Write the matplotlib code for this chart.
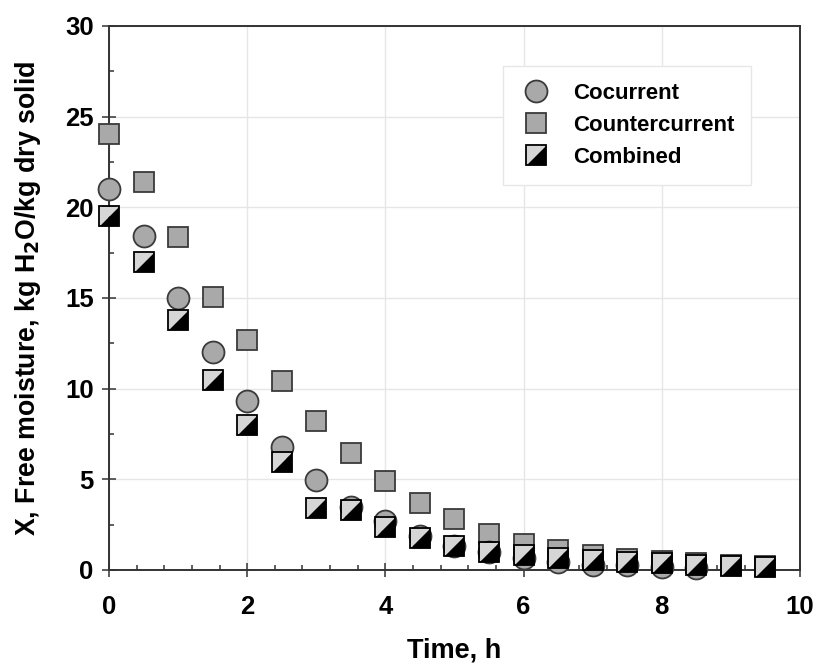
import matplotlib
matplotlib.use("Agg")
import matplotlib.pyplot as plt
from matplotlib.lines import Line2D
from matplotlib.ticker import MultipleLocator

plt.rcParams["font.family"] = ["Liberation Sans", "DejaVu Sans"]
plt.rcParams["font.weight"] = "bold"

# Drying time, h
time = [0, 0.5, 1, 1.5, 2, 2.5, 3, 3.5, 4, 4.5, 5, 5.5, 6, 6.5, 7, 7.5, 8, 8.5, 9, 9.5]

# Free moisture, kg H2O/kg dry solid
cocurrent = [21.0, 18.4, 15.0, 12.0, 9.3, 6.8, 4.95, 3.5, 2.7, 1.9, 1.3, 1.0,
             0.66, 0.42, 0.3, 0.25, 0.17, 0.1]
countercurrent = [24.05, 21.4, 18.35, 15.05, 12.7, 10.4, 8.2, 6.45, 4.9, 3.7,
                  2.8, 2.0, 1.45, 1.1, 0.8, 0.6, 0.5, 0.4, 0.3, 0.2]
combined = [19.5, 17.0, 13.8, 10.5, 8.0, 5.95, 3.4, 3.3, 2.35, 1.75, 1.3, 1.0,
            0.8, 0.65, 0.55, 0.45, 0.38, 0.3, 0.22, 0.15]

grey = "#a9a9a9"
edge = "#3a3a3a"
light = "#d6d6d6"

# Markers for the split square (upper-left light, lower-right black)
tri_upper = [(-1, -1), (-1, 1), (1, 1), (-1, -1)]
tri_lower = [(-1, -1), (1, -1), (1, 1), (-1, -1)]

fig = plt.figure(figsize=(8.17, 6.64), dpi=100)
ax = fig.add_axes([0.1334, 0.1416, 0.8458, 0.8193])

ax.plot(time[:len(countercurrent)], countercurrent, linestyle="none", marker="s",
        markersize=14, markerfacecolor=grey, markeredgecolor=edge,
        markeredgewidth=1.3, zorder=3, clip_on=False)
ax.plot(time[:len(cocurrent)], cocurrent, linestyle="none", marker="o",
        markersize=15.8, markerfacecolor=grey, markeredgecolor=edge,
        markeredgewidth=1.3, zorder=4, clip_on=False)
ax.plot(time[:len(combined)], combined, linestyle="none", marker=tri_upper,
        markersize=14, markerfacecolor=light, markeredgewidth=0, zorder=5,
        clip_on=False)
ax.plot(time[:len(combined)], combined, linestyle="none", marker=tri_lower,
        markersize=14, markerfacecolor="black", markeredgewidth=0, zorder=5,
        clip_on=False)
ax.plot(time[:len(combined)], combined, linestyle="none", marker="s",
        markersize=14, markerfacecolor="none", markeredgecolor="black",
        markeredgewidth=1.3, zorder=6, clip_on=False)

# Axis limits and ticks
ax.set_xlim(0, 10)
ax.set_ylim(0, 30)
ax.xaxis.set_major_locator(MultipleLocator(2))
ax.xaxis.set_minor_locator(MultipleLocator(0.4))
ax.yaxis.set_major_locator(MultipleLocator(5))
ax.yaxis.set_minor_locator(MultipleLocator(2.5))
ax.tick_params(which="major", direction="inout", length=10, width=1.1,
               color="#333333", labelsize=18.5)
ax.tick_params(which="minor", direction="in", length=3.6, width=1.1,
               color="#333333")
ax.tick_params(axis="x", which="major", pad=13)
ax.tick_params(axis="y", which="major", pad=6)
ax.tick_params(top=False, right=False)
for s in ax.spines.values():
    s.set_linewidth(1.4)
    s.set_color("#333333")

ax.grid(which="major", color="#e6e6e6", linewidth=1.0, zorder=0)
ax.set_axisbelow(True)

ax.set_xlabel("Time, h", fontsize=19.5, fontweight="bold", labelpad=13)
ax.set_ylabel("X, Free moisture, kg H$_\\mathbf{2}$O/kg dry solid",
              fontsize=19.3, fontweight="bold", labelpad=16)

# Legend
h_co = Line2D([], [], linestyle="none", marker="o", markersize=15.8,
              markerfacecolor=grey, markeredgecolor=edge, markeredgewidth=1.3)
h_counter = Line2D([], [], linestyle="none", marker="s", markersize=14,
                   markerfacecolor=grey, markeredgecolor=edge, markeredgewidth=1.3)
h_c1 = Line2D([], [], linestyle="none", marker=tri_upper, markersize=14,
              markerfacecolor=light, markeredgewidth=0)
h_c2 = Line2D([], [], linestyle="none", marker=tri_lower, markersize=14,
              markerfacecolor="black", markeredgewidth=0)
h_c3 = Line2D([], [], linestyle="none", marker="s", markersize=14,
              markerfacecolor="none", markeredgecolor="black", markeredgewidth=1.3)
leg = ax.legend([h_co, h_counter, (h_c1, h_c2, h_c3)],
                ["Cocurrent", "Countercurrent", "Combined"],
                loc="upper left", bbox_to_anchor=(0.570, 0.926),
                borderaxespad=0, fancybox=False, framealpha=1,
                edgecolor="#e6e6e6", prop={"size": 16, "weight": "bold"},
                borderpad=0.75, labelspacing=0.5, handletextpad=0.9,
                handlelength=1.5)
leg.get_frame().set_linewidth(1.0)

plt.savefig("out.png", dpi=100)
